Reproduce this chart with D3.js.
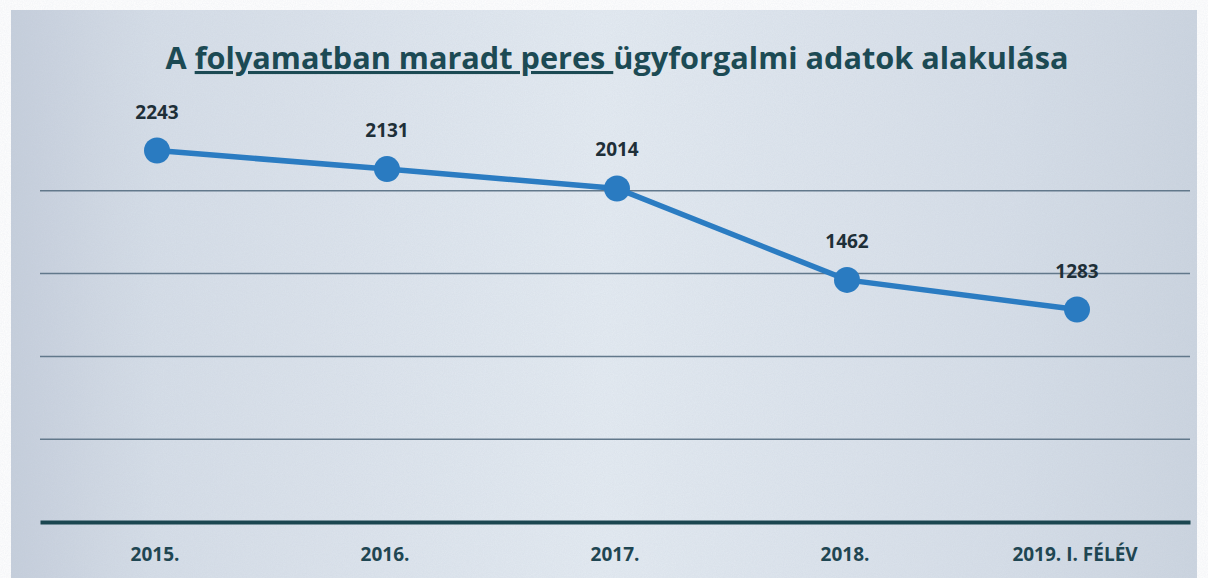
<!DOCTYPE html>
<html>
<head>
<meta charset="utf-8">
<script src="https://cdn.jsdelivr.net/npm/d3@7"></script>
<style>
  body { margin: 0; background: #fff; }
  svg { display: block; }
</style>
</head>
<body>
<div id="chart"></div>
<script>
// data
var categories = ["2015.", "2016.", "2017.", "2018.", "2019. I. FÉLÉV"];
var values = [2243, 2131, 2014, 1462, 1283];
var gridTicks = [500, 1000, 1500, 2000];

var width = 1208, height = 578;
var margin = {top: 108, right: 18, bottom: 56, left: 40};

var svg = d3.select("#chart").append("svg")
    .attr("width", width)
    .attr("height", height);

// scanned paper look
var defs = svg.append("defs");
var grad = defs.append("linearGradient").attr("id", "paper")
    .attr("x1", "0%").attr("x2", "100%").attr("y1", "0%").attr("y2", "0%");
grad.append("stop").attr("offset", "0%").attr("stop-color", "#c6cfdc");
grad.append("stop").attr("offset", "12%").attr("stop-color", "#d6dee8");
grad.append("stop").attr("offset", "50%").attr("stop-color", "#e4ebf2");
grad.append("stop").attr("offset", "85%").attr("stop-color", "#d6dee8");
grad.append("stop").attr("offset", "100%").attr("stop-color", "#ccd5e0");

var noise = defs.append("filter").attr("id", "noise");
noise.append("feTurbulence").attr("type", "fractalNoise")
    .attr("baseFrequency", 0.9).attr("numOctaves", 2).attr("result", "t");
noise.append("feColorMatrix").attr("type", "matrix")
    .attr("values", "0 0 0 0 0.45  0 0 0 0 0.5  0 0 0 0 0.6  0 0 0 0.22 0");

svg.append("rect").attr("x", 11).attr("y", 10)
    .attr("width", 1186).attr("height", height - 10)
    .attr("fill", "url(#paper)");
svg.append("rect").attr("x", 11).attr("y", 10)
    .attr("width", 1186).attr("height", height - 10)
    .attr("filter", "url(#noise)").attr("opacity", 0.8);

var x = d3.scaleBand()
    .domain(categories)
    .range([margin.left, width - margin.right]);

var y = d3.scaleLinear()
    .domain([0, 2500])
    .range([height - margin.bottom, margin.top]);

// gridlines
svg.append("g")
  .selectAll("line")
  .data(gridTicks)
  .join("line")
    .attr("x1", margin.left)
    .attr("x2", width - margin.right)
    .attr("y1", d => y(d))
    .attr("y2", d => y(d))
    .attr("stroke", "#62788b")
    .attr("stroke-width", 1.5);

// x axis
var xAxis = svg.append("g")
    .attr("transform", "translate(0," + y(0) + ")")
    .call(d3.axisBottom(x).tickSize(0).tickPadding(26));
xAxis.select(".domain")
    .attr("stroke", "#1b4650")
    .attr("stroke-width", 4);
xAxis.selectAll("text")
    .attr("font-family", "'Open Sans', sans-serif")
    .attr("font-weight", "bold")
    .attr("font-size", 19)
    .attr("fill", "#1f4652");

var cx = function(d, i) { return x(categories[i]) + x.bandwidth() / 2 + 2; };

// line
var line = d3.line()
    .x(function(d, i) { return cx(d, i); })
    .y(d => y(d));

svg.append("path")
    .datum(values)
    .attr("fill", "none")
    .attr("stroke", "#2b7cc2")
    .attr("stroke-width", 5.5)
    .attr("d", line);

svg.append("g")
  .selectAll("circle")
  .data(values)
  .join("circle")
    .attr("cx", cx)
    .attr("cy", d => y(d))
    .attr("r", 13)
    .attr("fill", "#2a7bc1");

// value labels
svg.append("g")
  .selectAll("text")
  .data(values)
  .join("text")
    .attr("x", cx)
    .attr("y", d => y(d) - 32)
    .attr("text-anchor", "middle")
    .attr("font-family", "'Open Sans', sans-serif")
    .attr("font-weight", "bold")
    .attr("font-size", 19)
    .attr("fill", "#1e2f38")
    .text(d => d);

// title
var title = svg.append("text")
    .attr("x", 617)
    .attr("y", 69)
    .attr("text-anchor", "middle")
    .attr("font-family", "'Open Sans', sans-serif")
    .attr("font-weight", "bold")
    .attr("font-size", 28)
    .attr("fill", "#1c4a54");
title.append("tspan").text("A ");
title.append("tspan")
    .style("text-decoration", "underline")
    .text("folyamatban maradt peres\u00a0");
title.append("tspan").text("ügyforgalmi adatok alakulása");

// fit the title to the width of the original
var w = title.node().getComputedTextLength();
title.attr("font-size", 28 * 903 / w);
</script>
</body>
</html>
